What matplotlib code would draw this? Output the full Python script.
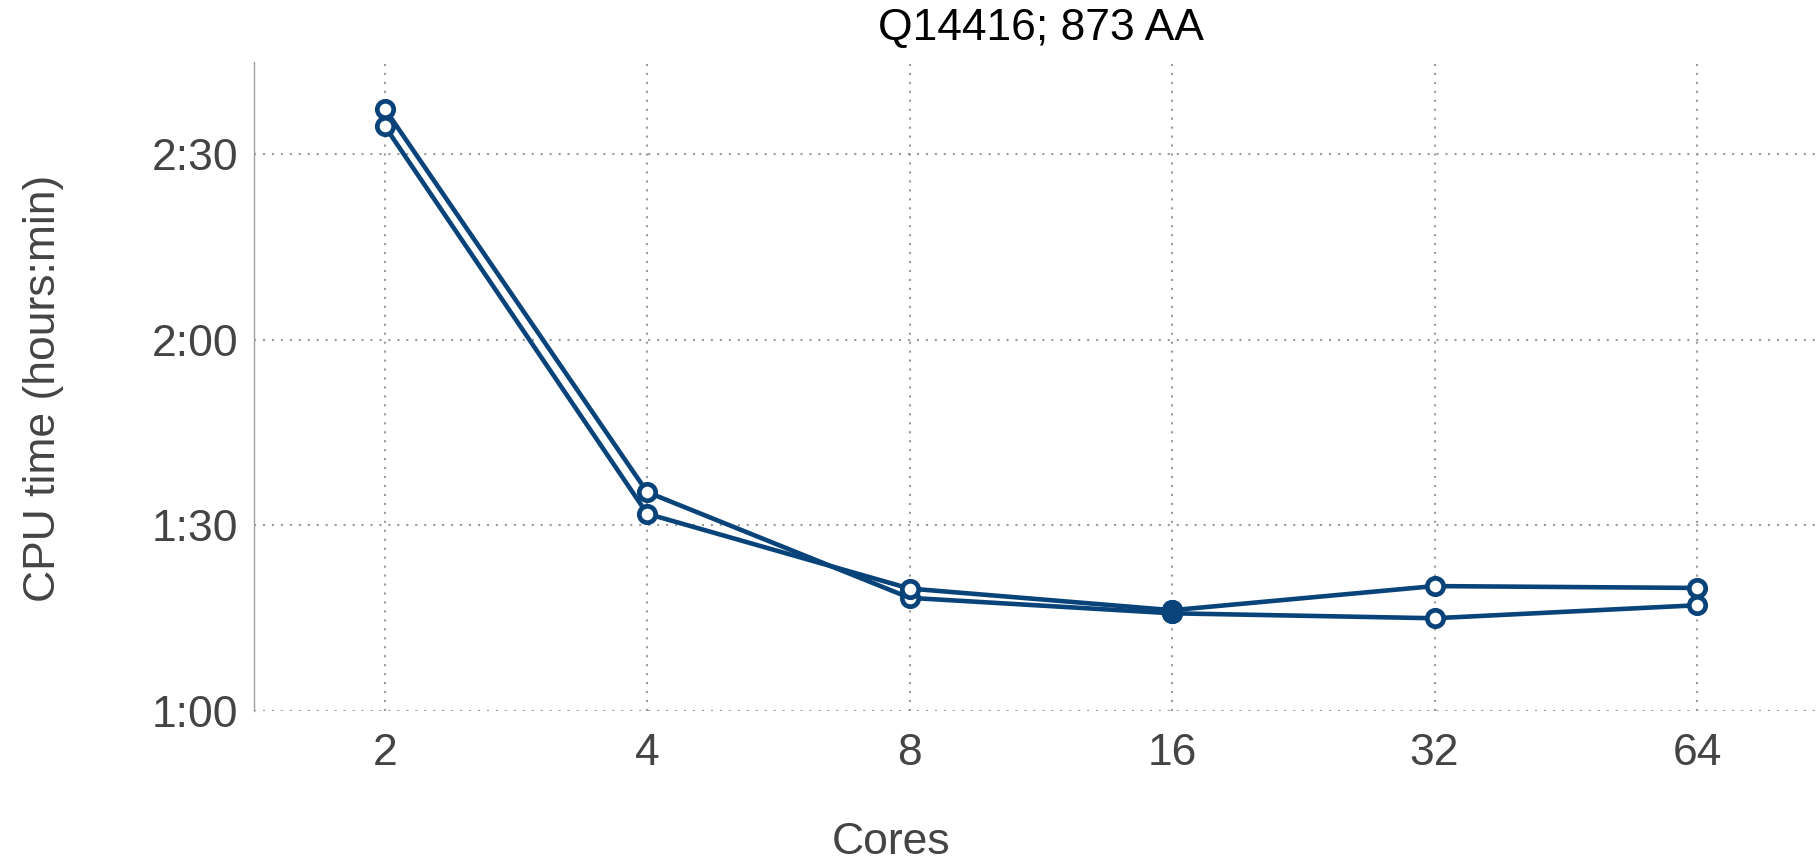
import matplotlib
matplotlib.use("Agg")
import matplotlib.pyplot as plt
from matplotlib.ticker import FixedLocator, FixedFormatter, NullLocator

# ---- data (CPU time in minutes) ----
cores = [2, 4, 8, 16, 32, 64]
core_labels = ["2", "4", "8", "16", "32", "64"]
run_a = [157.4, 95.4, 78.3, 75.8, 75.0, 77.1]
run_b = [154.6, 91.9, 79.8, 76.3, 80.2, 79.9]
filled_point = [False, False, False, True, False, False]
ytick_vals = [60, 90, 120, 150]
ytick_labels = ["1:00", "1:30", "2:00", "2:30"]
title = "Q14416; 873 AA"

plt.rcParams["font.family"] = ["Liberation Sans", "DejaVu Sans"]

W, H = 1819, 860
fig = plt.figure(figsize=(W / 100, H / 100), dpi=100)
left, right, top, bottom = 253.5, 1819, 61.7, 711
ax = fig.add_axes([left / W, 1 - bottom / H, (right - left) / W, (bottom - top) / H])

color = "#08437a"
for ys in (run_a, run_b):
    ax.plot(cores, ys, color=color, lw=3.3, marker="o", ms=11.8, mew=3.4,
            mfc="white", mec=color, zorder=3, solid_joinstyle="round")
for ys in (run_a, run_b):
    fx = [c for c, f in zip(cores, filled_point) if f]
    fy = [v for v, f in zip(ys, filled_point) if f]
    ax.plot(fx, fy, ls="none", marker="o", ms=11.8, mew=3.4, mfc=color, mec=color, zorder=4)

ax.set_xscale("log", base=2)
ax.set_xlim(2 ** 0.5, 2 ** 6.465)
ax.set_ylim(60, 165.0)
ax.xaxis.set_major_locator(FixedLocator(cores))
ax.xaxis.set_major_formatter(FixedFormatter(core_labels))
ax.xaxis.set_minor_locator(NullLocator())
ax.yaxis.set_major_locator(FixedLocator(ytick_vals))
ax.yaxis.set_major_formatter(FixedFormatter(ytick_labels))

ax.tick_params(axis="both", length=0, labelsize=32, labelcolor="#444444")
ax.tick_params(axis="x", pad=15.5)
ax.tick_params(axis="y", pad=10.8)

for s in ("top", "right", "bottom"):
    ax.spines[s].set_visible(False)
ax.spines["left"].set_color("#a0a0a0")
ax.spines["left"].set_linewidth(1.0)

ax.grid(True, color="#9a9a9a", lw=1.5, linestyle=(0, (1, 3.3)), zorder=1)
ax.set_axisbelow(True)

fig.text(1041 / W, 1 - 29 / H, title, ha="center", va="center", fontsize=32, color="black")
fig.text(891 / W, 1 - 843 / H, "Cores", ha="center", va="center", fontsize=32, color="#444444")
fig.text(44 / W, 1 - 388 / H, "CPU time (hours:min)", ha="center", va="center",
         rotation=90, fontsize=32, color="#444444")

fig.savefig("out.png", dpi=100)
